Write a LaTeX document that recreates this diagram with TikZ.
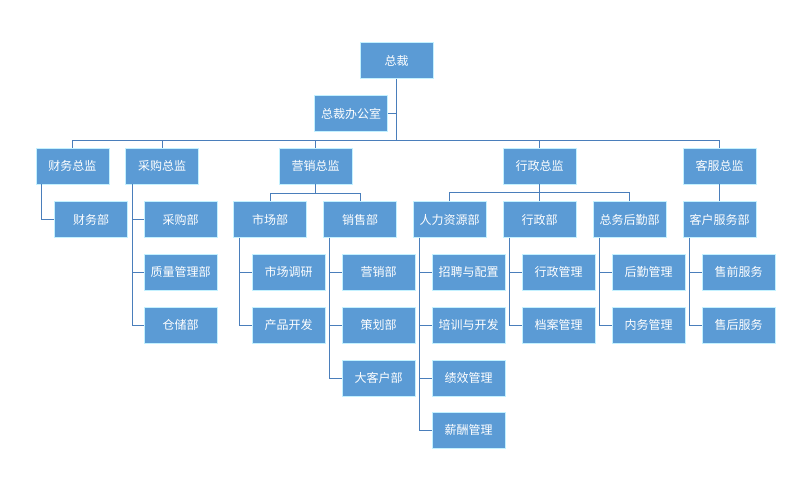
\documentclass[tikz,border=0pt]{standalone}
\usepackage{fontspec}
\newfontfamily\cjk{Noto Sans CJK SC}
\begin{document}
\begin{tikzpicture}[x=1pt,y=-1pt,
  bx/.style={draw=white!55!blue!40!cyan!30!white, line width=0.8pt, fill={rgb,255:red,91;green,155;blue,213}, text=white, minimum width=73pt, minimum height=36pt, inner sep=1pt, font=\cjk\fontsize{12}{14}\selectfont},
  ln/.style={draw={rgb,255:red,74;green,126;blue,187}, line width=0.9pt}]
\useasboundingbox[fill=white] (0,0) rectangle (788,477);
\node[bx] (ceo) at (396.5,60.5) {总裁};
\node[bx] (off) at (351,113.5) {总裁办公室};
\coordinate (b1) at (396.5,140);
\node[bx] (cf) at (72.5,166) {财务总监};
\node[bx] (cp) at (162,166) {采购总监};
\node[bx] (cm) at (315.5,166) {营销总监};
\node[bx] (ca) at (539.5,166) {行政总监};
\node[bx] (cs) at (719.5,166) {客服总监};
\node[bx] (d1) at (91,219.5) {财务部};
\node[bx] (d2) at (180.5,219.5) {采购部};
\node[bx] (d3) at (180.5,272) {质量管理部};
\node[bx] (d4) at (180.5,325) {仓储部};
\node[bx] (m1) at (270,219.5) {市场部};
\node[bx] (m2) at (360,219.5) {销售部};
\node[bx] (m11) at (288.5,272) {市场调研};
\node[bx] (m12) at (288.5,325) {产品开发};
\node[bx] (m21) at (378.5,272) {营销部};
\node[bx] (m22) at (378.5,325) {策划部};
\node[bx] (m23) at (378.5,378) {大客户部};
\node[bx] (a1) at (449.5,219.5) {人力资源部};
\node[bx] (a2) at (539.5,219.5) {行政部};
\node[bx] (a3) at (629.5,219.5) {总务后勤部};
\node[bx] (s1) at (719.5,219.5) {客户服务部};
\node[bx] (a11) at (468.5,272) {招聘与配置};
\node[bx] (a12) at (468.5,325) {培训与开发};
\node[bx] (a13) at (468.5,378) {绩效管理};
\node[bx] (a14) at (468.5,430) {薪酬管理};
\node[bx] (a21) at (558.5,272) {行政管理};
\node[bx] (a22) at (558.5,325) {档案管理};
\node[bx] (a31) at (648.5,272) {后勤管理};
\node[bx] (a32) at (648.5,325) {内务管理};
\node[bx] (s11) at (738.5,272) {售前服务};
\node[bx] (s12) at (738.5,325) {售后服务};
\coordinate (bm) at (315.5,193);
\coordinate (ba) at (539.5,192);
\begin{scope}[on background layer/.style={}]
\draw[ln] (ceo.south) -- (b1);
\draw[ln] (off.east) -- (off.east -| ceo);
\foreach \n in {cf,cp,cm,ca,cs} \draw[ln] (\n.north) |- (b1);
\draw[ln] (cm.south) -- (bm);
\foreach \n in {m1,m2} \draw[ln] (\n.north) |- (bm);
\draw[ln] (ca.south) -- (ba);
\foreach \n in {a1,a2,a3} \draw[ln] (\n.north) |- (ba);
\draw[ln] (cs.south) -- (s1.north);
\draw[ln] ([xshift=6pt]cf.south west) |- (d1.west);
\foreach \c in {d2,d3,d4} \draw[ln] ([xshift=7pt]cp.south west) |- (\c.west);
\foreach \c in {m11,m12} \draw[ln] ([xshift=6pt]m1.south west) |- (\c.west);
\foreach \c in {m21,m22,m23} \draw[ln] ([xshift=6pt]m2.south west) |- (\c.west);
\foreach \c in {a11,a12,a13,a14} \draw[ln] ([xshift=7pt]a1.south west) |- (\c.west);
\foreach \c in {a21,a22} \draw[ln] ([xshift=7pt]a2.south west) |- (\c.west);
\foreach \c in {a31,a32} \draw[ln] ([xshift=7pt]a3.south west) |- (\c.west);
\foreach \c in {s11,s12} \draw[ln] ([xshift=7pt]s1.south west) |- (\c.west);
\end{scope}
\end{tikzpicture}
\end{document}
